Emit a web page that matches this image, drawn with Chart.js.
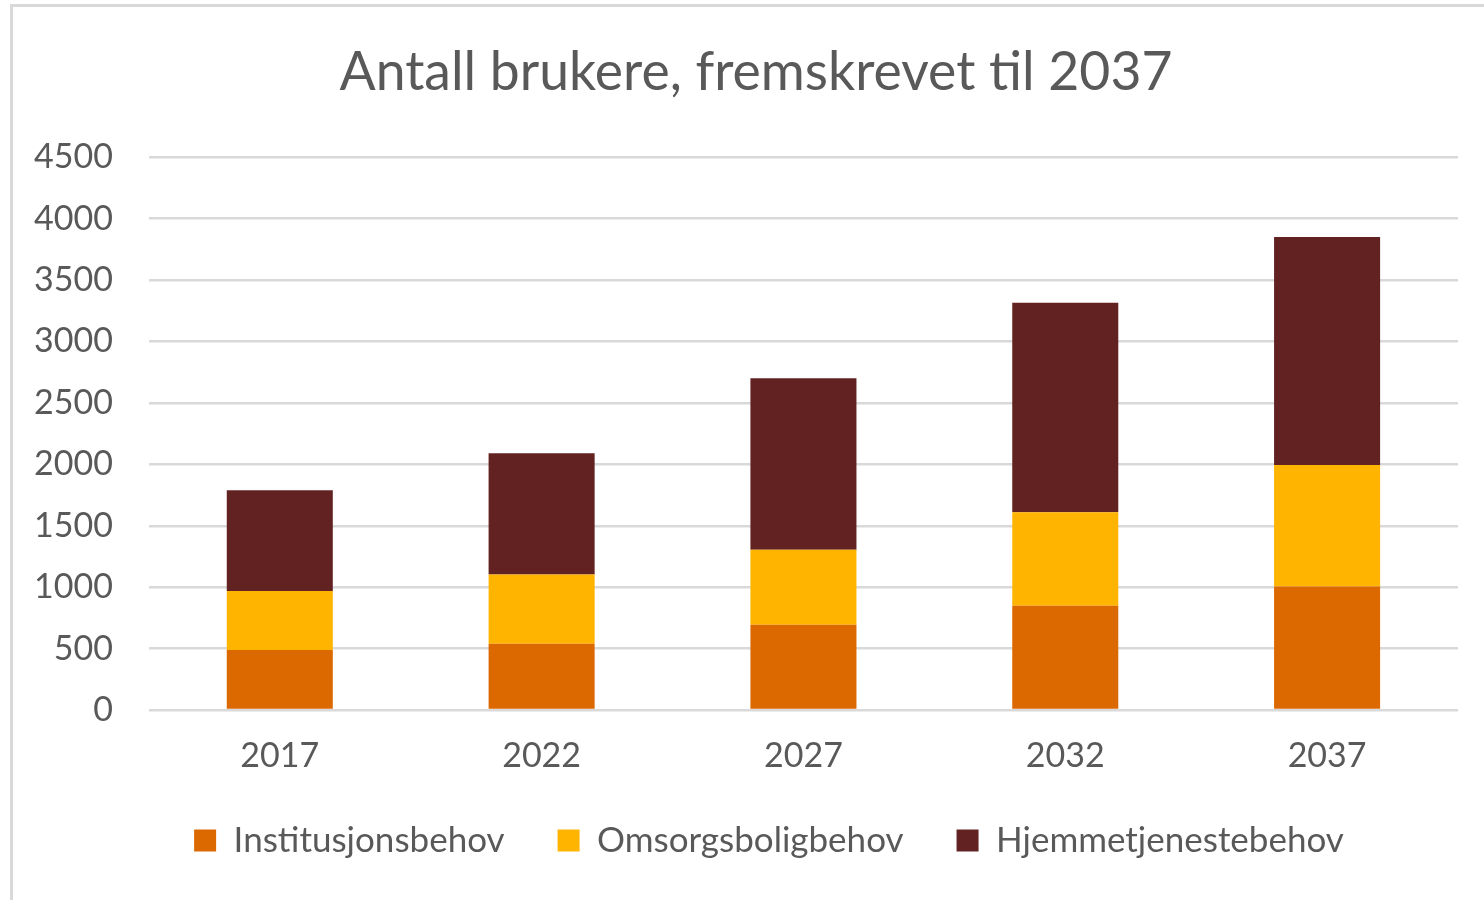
<!DOCTYPE html>
<html>
<head>
<meta charset="utf-8">
<script src="https://cdn.jsdelivr.net/npm/chart.js@4"></script>
<style>
  html, body { margin: 0; padding: 0; background: #fff; }
  #wrap { position: relative; width: 1484px; height: 900px; overflow: hidden; }
  #frame { position: absolute; left: 10px; top: 4px; width: 1500px; height: 920px; border: 3px solid #d9d9d9; box-sizing: border-box; }
  canvas { position: absolute; left: 0; top: 0; }
</style>
</head>
<body>
<div id="wrap">
  <div id="frame"></div>
  <canvas id="chart" width="1484" height="900"></canvas>
</div>
<script>
const years = ['2017', '2022', '2027', '2032', '2037'];
const institusjon = [490, 540, 695, 850, 1005];
const omsorgsbolig = [480, 563, 610, 760, 990];
const hjemmetjeneste = [820, 988, 1395, 1705, 1855];

const textColor = '#595959';
const fontFamily = 'Lato, "Open Sans", sans-serif';

// title and legend sit a bit right of the plot centre in the original
const shiftBoxes = {
  id: 'shiftBoxes',
  afterLayout(chart) {
    if (chart.titleBlock) { chart.titleBlock.left += 10; chart.titleBlock.right += 10; }
    if (chart.legend) { chart.legend.left += 23; chart.legend.right += 23; }
  }
};

const ctx = document.getElementById('chart').getContext('2d');
new Chart(ctx, {
  type: 'bar',
  data: {
    labels: years,
    datasets: [
      { label: 'Institusjonsbehov', data: institusjon, backgroundColor: '#dc6900' },
      { label: 'Omsorgsboligbehov', data: omsorgsbolig, backgroundColor: '#ffb500' },
      { label: 'Hjemmetjenestebehov', data: hjemmetjeneste, backgroundColor: '#632222' }
    ]
  },
  plugins: [shiftBoxes],
  options: {
    responsive: false,
    animation: false,
    layout: { padding: { left: 34, right: 26, top: 0, bottom: 32 } },
    datasets: { bar: { categoryPercentage: 1, barPercentage: 0.405 } },
    plugins: {
      title: {
        display: true,
        text: 'Antall brukere, fremskrevet til 2037',
        color: textColor,
        font: { family: fontFamily, size: 53.5, weight: 'normal' },
        padding: { top: 41, bottom: 52 }
      },
      legend: {
        position: 'bottom',
        labels: {
          color: textColor,
          font: { family: fontFamily, size: 35 },
          boxWidth: 22,
          boxHeight: 22,
          padding: 53
        }
      },
      tooltip: { enabled: false }
    },
    scales: {
      x: {
        stacked: true,
        grid: { display: false, drawTicks: true, tickLength: 31 },
        border: { display: false },
        ticks: { color: textColor, font: { family: fontFamily, size: 34, lineHeight: 0.85 }, padding: 0 }
      },
      y: {
        stacked: true,
        min: 0,
        max: 4500,
        grid: { color: '#d9d9d9', lineWidth: 2.5, drawTicks: true, tickLength: 36, tickColor: 'transparent' },
        border: { display: false },
        ticks: {
          stepSize: 500,
          color: textColor,
          font: { family: fontFamily, size: 34 },
          padding: 0,
          callback: v => String(v)
        }
      }
    }
  }
});
</script>
</body>
</html>
